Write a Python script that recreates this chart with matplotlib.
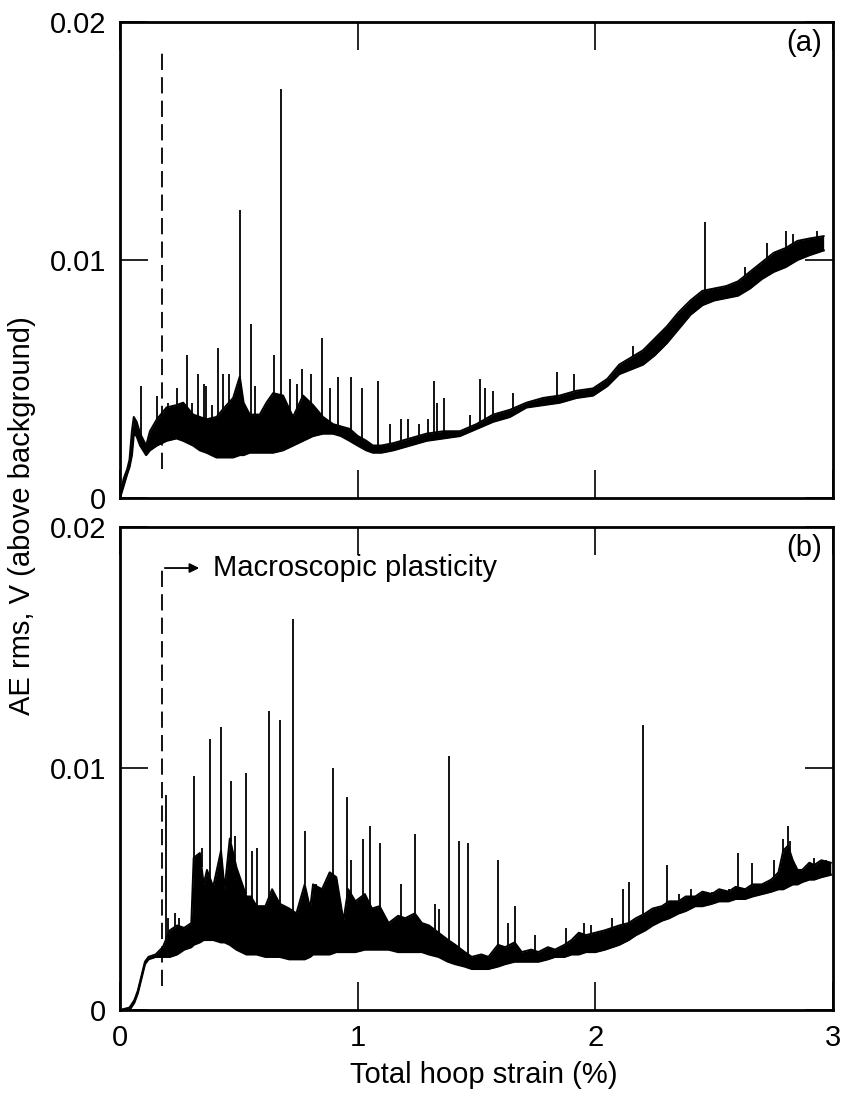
import numpy as np
import matplotlib
matplotlib.use('Agg')
import matplotlib.pyplot as plt

plt.rcParams['font.family'] = ['Liberation Sans', 'DejaVu Sans']
plt.rcParams['font.size'] = 21

# panel (a): band of traces (lower / upper edge) and isolated spikes
a_x = [0.000, 0.015, 0.030, 0.040, 0.050, 0.058, 0.070, 0.085, 0.110, 0.126, 0.155, 0.196,
       0.238, 0.266, 0.308, 0.336, 0.364, 0.406, 0.440, 0.476, 0.504, 0.520, 0.546, 0.588,
       0.616, 0.644, 0.686, 0.728, 0.770, 0.812, 0.854, 0.896, 0.930, 0.966, 1.000, 1.036,
       1.064, 1.100, 1.150, 1.220, 1.290, 1.360, 1.430, 1.500, 1.570, 1.640, 1.710, 1.780,
       1.850, 1.920, 1.990, 2.050, 2.100, 2.150, 2.200, 2.250, 2.300, 2.350, 2.400, 2.450,
       2.500, 2.550, 2.600, 2.650, 2.700, 2.750, 2.800, 2.850, 2.900, 2.960]
a_lo = [0.0000, 0.0005, 0.0010, 0.0013, 0.0018, 0.0027, 0.0026, 0.0022, 0.0018, 0.0020, 0.0022, 0.0024,
        0.0025, 0.0024, 0.0022, 0.0020, 0.0019, 0.0017, 0.0017, 0.0017, 0.0018, 0.0018, 0.0019, 0.0019,
        0.0019, 0.0019, 0.0020, 0.0022, 0.0024, 0.0026, 0.0027, 0.0027, 0.0026, 0.0024, 0.0022, 0.0020,
        0.0019, 0.0019, 0.0020, 0.0022, 0.0024, 0.0025, 0.0026, 0.0029, 0.0032, 0.0034, 0.0038, 0.0039,
        0.0040, 0.0042, 0.0043, 0.0047, 0.0052, 0.0054, 0.0056, 0.0060, 0.0065, 0.0071, 0.0077, 0.0081,
        0.0083, 0.0084, 0.0085, 0.0088, 0.0092, 0.0095, 0.0097, 0.0100, 0.0102, 0.0104]
a_hi = [0.0000, 0.0008, 0.0012, 0.0016, 0.0028, 0.0034, 0.0032, 0.0027, 0.0022, 0.0028, 0.0033, 0.0038,
        0.0039, 0.0040, 0.0035, 0.0034, 0.0033, 0.0034, 0.0038, 0.0042, 0.0051, 0.0040, 0.0035, 0.0035,
        0.0040, 0.0044, 0.0043, 0.0034, 0.0043, 0.0039, 0.0034, 0.0031, 0.0030, 0.0029, 0.0026, 0.0024,
        0.0022, 0.0022, 0.0023, 0.0025, 0.0027, 0.0028, 0.0028, 0.0031, 0.0035, 0.0037, 0.0040, 0.0042,
        0.0043, 0.0045, 0.0046, 0.0050, 0.0056, 0.0059, 0.0062, 0.0067, 0.0072, 0.0078, 0.0083, 0.0087,
        0.0088, 0.0089, 0.0091, 0.0095, 0.0099, 0.0103, 0.0105, 0.0108, 0.0109, 0.0110]
a_spike_x = [0.087, 0.157, 0.200, 0.238, 0.280, 0.305, 0.329, 0.353, 0.360, 0.389, 0.414, 0.434,
             0.457, 0.504, 0.550, 0.568, 0.616, 0.647, 0.676, 0.714, 0.746, 0.766, 0.805, 0.851,
             0.882, 0.917, 0.973, 1.020, 1.085, 1.137, 1.180, 1.211, 1.257, 1.295, 1.320, 1.335,
             1.365, 1.474, 1.515, 1.537, 1.569, 1.652, 1.840, 1.910, 2.160, 2.350, 2.460, 2.630,
             2.720, 2.800, 2.830, 2.930]
a_spike_y = [0.0047, 0.0043, 0.0040, 0.0046, 0.0060, 0.0040, 0.0052, 0.0048, 0.0047, 0.0039, 0.0063, 0.0052,
             0.0052, 0.0121, 0.0073, 0.0047, 0.0040, 0.0060, 0.0172, 0.0050, 0.0048, 0.0054, 0.0052, 0.0067,
             0.0046, 0.0051, 0.0051, 0.0046, 0.0049, 0.0031, 0.0033, 0.0033, 0.0031, 0.0033, 0.0049, 0.0040,
             0.0042, 0.0035, 0.0050, 0.0046, 0.0045, 0.0044, 0.0053, 0.0052, 0.0064, 0.0078, 0.0116, 0.0097,
             0.0107, 0.0112, 0.0111, 0.0112]

# panel (b)
b_x = [0.000, 0.040, 0.060, 0.075, 0.090, 0.105, 0.120, 0.150, 0.180, 0.210, 0.240, 0.270,
       0.300, 0.310, 0.336, 0.352, 0.366, 0.392, 0.425, 0.440, 0.462, 0.490, 0.532, 0.550,
       0.575, 0.612, 0.640, 0.672, 0.712, 0.742, 0.777, 0.800, 0.812, 0.850, 0.882, 0.910,
       0.940, 0.960, 0.990, 1.030, 1.060, 1.092, 1.130, 1.170, 1.200, 1.240, 1.270, 1.300,
       1.340, 1.380, 1.410, 1.450, 1.480, 1.520, 1.550, 1.590, 1.620, 1.660, 1.690, 1.730,
       1.760, 1.800, 1.830, 1.870, 1.900, 1.930, 1.960, 2.000, 2.040, 2.070, 2.100, 2.140,
       2.170, 2.210, 2.240, 2.280, 2.310, 2.350, 2.380, 2.420, 2.450, 2.490, 2.520, 2.560,
       2.590, 2.630, 2.660, 2.700, 2.740, 2.770, 2.790, 2.810, 2.830, 2.850, 2.870, 2.900,
       2.920, 2.950, 2.990]
b_lo = [0.0000, 0.0000, 0.0003, 0.0007, 0.0013, 0.0019, 0.0021, 0.0022, 0.0022, 0.0022, 0.0023, 0.0025,
        0.0026, 0.0027, 0.0028, 0.0029, 0.0029, 0.0029, 0.0028, 0.0028, 0.0027, 0.0025, 0.0023, 0.0023,
        0.0023, 0.0022, 0.0022, 0.0022, 0.0021, 0.0021, 0.0021, 0.0022, 0.0023, 0.0023, 0.0023, 0.0024,
        0.0024, 0.0024, 0.0024, 0.0025, 0.0025, 0.0025, 0.0025, 0.0024, 0.0024, 0.0024, 0.0024, 0.0023,
        0.0022, 0.0020, 0.0019, 0.0018, 0.0017, 0.0017, 0.0017, 0.0018, 0.0019, 0.0020, 0.0020, 0.0020,
        0.0020, 0.0021, 0.0022, 0.0022, 0.0023, 0.0023, 0.0024, 0.0024, 0.0025, 0.0026, 0.0027, 0.0029,
        0.0031, 0.0033, 0.0035, 0.0037, 0.0038, 0.0040, 0.0041, 0.0043, 0.0043, 0.0044, 0.0045, 0.0045,
        0.0046, 0.0046, 0.0047, 0.0048, 0.0049, 0.0050, 0.0050, 0.0051, 0.0052, 0.0052, 0.0053, 0.0054,
        0.0054, 0.0055, 0.0056]
b_hi = [0.0000, 0.0001, 0.0004, 0.0008, 0.0014, 0.0020, 0.0022, 0.0023, 0.0026, 0.0033, 0.0035, 0.0034,
        0.0036, 0.0063, 0.0065, 0.0052, 0.0058, 0.0051, 0.0066, 0.0050, 0.0071, 0.0059, 0.0047, 0.0047,
        0.0043, 0.0043, 0.0050, 0.0044, 0.0042, 0.0040, 0.0052, 0.0042, 0.0052, 0.0050, 0.0057, 0.0055,
        0.0037, 0.0050, 0.0045, 0.0048, 0.0042, 0.0043, 0.0036, 0.0039, 0.0038, 0.0040, 0.0036, 0.0035,
        0.0032, 0.0029, 0.0027, 0.0024, 0.0022, 0.0023, 0.0022, 0.0027, 0.0026, 0.0028, 0.0024, 0.0025,
        0.0024, 0.0026, 0.0025, 0.0027, 0.0029, 0.0032, 0.0031, 0.0032, 0.0033, 0.0034, 0.0035, 0.0036,
        0.0038, 0.0040, 0.0042, 0.0043, 0.0045, 0.0045, 0.0047, 0.0047, 0.0049, 0.0048, 0.0050, 0.0049,
        0.0051, 0.0050, 0.0052, 0.0052, 0.0054, 0.0057, 0.0066, 0.0068, 0.0062, 0.0058, 0.0058, 0.0061,
        0.0060, 0.0062, 0.0061]
b_spike_x = [0.194, 0.200, 0.230, 0.250, 0.311, 0.343, 0.378, 0.423, 0.465, 0.483, 0.528, 0.557,
             0.578, 0.625, 0.672, 0.728, 0.777, 0.826, 0.896, 0.955, 0.973, 1.022, 1.053, 1.095,
             1.180, 1.240, 1.326, 1.340, 1.382, 1.424, 1.466, 1.590, 1.632, 1.662, 1.744, 1.877,
             1.950, 1.980, 2.070, 2.115, 2.140, 2.200, 2.300, 2.350, 2.400, 2.437, 2.490, 2.560,
             2.600, 2.660, 2.750, 2.790, 2.810, 2.820, 2.920, 2.970]
b_spike_y = [0.0089, 0.0038, 0.0040, 0.0038, 0.0097, 0.0067, 0.0112, 0.0117, 0.0095, 0.0072, 0.0098, 0.0066,
             0.0067, 0.0124, 0.0120, 0.0162, 0.0074, 0.0052, 0.0100, 0.0088, 0.0062, 0.0071, 0.0076, 0.0069,
             0.0052, 0.0073, 0.0044, 0.0042, 0.0105, 0.0070, 0.0069, 0.0062, 0.0036, 0.0043, 0.0031, 0.0034,
             0.0036, 0.0035, 0.0038, 0.0050, 0.0053, 0.0118, 0.0060, 0.0048, 0.0050, 0.0048, 0.0049, 0.0050,
             0.0065, 0.0061, 0.0062, 0.0071, 0.0076, 0.0070, 0.0063, 0.0062]

plasticity_onset = 0.177

fig = plt.figure(figsize=(8.42, 10.99), dpi=100)
ax_a = fig.add_axes([0.1425, 0.547, 0.847, 0.433])
ax_b = fig.add_axes([0.1425, 0.081, 0.847, 0.4395])


def draw_traces(ax, x, lo, hi, sx, sy):
    ax.fill_between(x, lo, hi, color='black', lw=0)
    ax.plot(x, lo, color='black', lw=1.6)
    ax.plot(x, hi, color='black', lw=1.4)
    base = np.interp(sx, x, hi)
    ax.vlines(sx, base, sy, color='black', lw=1.3)


def style_axes(ax, show_xlabels):
    ax.set_xlim(0, 3)
    ax.set_ylim(0, 0.02)
    ax.set_xticks([0, 1, 2, 3])
    ax.set_yticks([0, 0.01, 0.02])
    ax.set_yticklabels(['0', '0.01', '0.02'])
    if show_xlabels:
        ax.set_xticklabels(['0', '1', '2', '3'])
    else:
        ax.set_xticklabels([])
    ax.tick_params(direction='in', length=20, width=1.2, top=True, right=True, pad=10)
    for sp in ax.spines.values():
        sp.set_linewidth(2)


draw_traces(ax_a, a_x, a_lo, a_hi, a_spike_x, a_spike_y)
ax_a.vlines(plasticity_onset, 0.0012, 0.0189, color='black', lw=1.3, linestyles=(0, (9, 4)))
ax_a.text(0.985, 0.985, '(a)', transform=ax_a.transAxes, ha='right', va='top')
style_axes(ax_a, False)

draw_traces(ax_b, b_x, b_lo, b_hi, b_spike_x, b_spike_y)
ax_b.vlines(plasticity_onset, 0.0010, 0.0183, color='black', lw=1.3, linestyles=(0, (9, 4)))
ax_b.annotate('', xy=(0.345, 0.0183), xytext=(plasticity_onset, 0.0183),
              arrowprops=dict(arrowstyle='-|>', color='black', lw=1.3, mutation_scale=14))
ax_b.text(0.39, 0.0183, 'Macroscopic plasticity', va='center', ha='left')
ax_b.text(0.985, 0.985, '(b)', transform=ax_b.transAxes, ha='right', va='top')
style_axes(ax_b, True)

fig.text(0.574, 0.022, 'Total hoop strain (%)', ha='center', va='center')
fig.text(0.026, 0.531, 'AE rms, V (above background)', rotation=90, ha='center', va='center')

fig.savefig('out.png', dpi=100)
